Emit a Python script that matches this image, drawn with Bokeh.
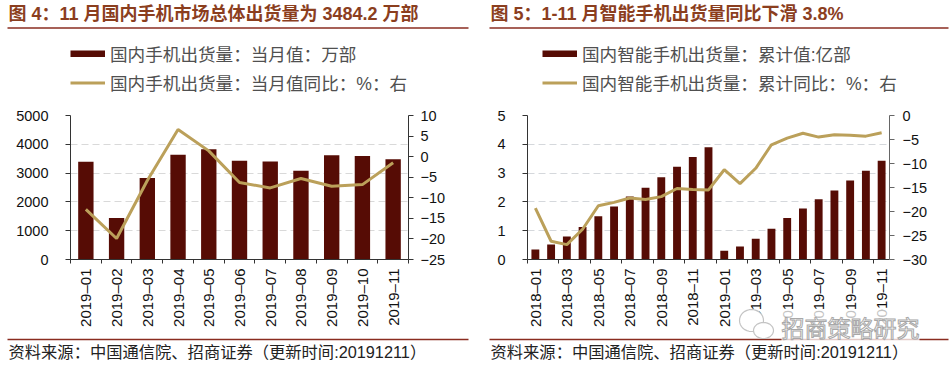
import math
from bokeh.embed import file_html
from bokeh.layouts import column, row
from bokeh.models import (FixedTicker, Grid, Label, Legend, LegendItem, LinearAxis,
                          Range1d, ColumnDataSource)
from bokeh.plotting import figure
from bokeh.resources import INLINE

# ---------- data ----------
months_a = ["2019-01", "2019-02", "2019-03", "2019-04", "2019-05", "2019-06",
            "2019-07", "2019-08", "2019-09", "2019-10", "2019-11"]
shipments_a = [3395, 1442, 2826, 3640, 3826, 3430, 3407, 3081, 3616, 3593, 3484]
yoy_a = [-12.8, -19.9, -5.8, 6.6, 1.4, -6.3, -7.6, -5.3, -7.2, -6.8, -1.5]

months_b = ["2018-01", "2018-02", "2018-03", "2018-04", "2018-05", "2018-06", "2018-07", "2018-08",
            "2018-09", "2018-10", "2018-11", "2018-12", "2019-01", "2019-02", "2019-03", "2019-04",
            "2019-05", "2019-06", "2019-07", "2019-08", "2019-09", "2019-10", "2019-11"]
shipments_b = [0.35, 0.52, 0.80, 1.13, 1.50, 1.84, 2.19, 2.49, 2.86, 3.22, 3.56, 3.90,
               0.30, 0.45, 0.72, 1.07, 1.44, 1.77, 2.09, 2.40, 2.74, 3.08, 3.43]
yoy_b = [-19.3, -26.2, -26.9, -23.7, -18.8, -18.1, -17.2, -17.5, -16.9, -15.2, -15.4, -15.5,
         -11.3, -14.2, -11.0, -6.1, -4.7, -3.7, -4.5, -4.0, -4.1, -4.3, -3.6]

title_a = "图 4：11 月国内手机市场总体出货量为 3484.2 万部"
title_b = "图 5：1-11 月智能手机出货量同比下滑 3.8%"
legend_a = ["国内手机出货量：当月值：万部", "国内手机出货量：当月值同比：%：右"]
legend_b = ["国内智能手机出货量：累计值:亿部", "国内智能手机出货量：累计同比：%：右"]
source_note = "资料来源：中国通信院、招商证券（更新时间:20191211）"
watermark = "招商策略研究"

# ---------- style ----------
BAR = "#560C05"
LINE = "#BBA05A"
RULE = "#8A2C20"
TITLE = "#8B3E1E"
FONT = "Liberation Sans, Noto Sans CJK SC"
H = 368
W = 475
MINUS = "\u2212"


def fmt(v):
    return f"{MINUS}{abs(v)}" if v < 0 else str(v)


def panel(months, bars, line, left_range, left_ticks, right_range, right_ticks, step,
          frame_l, frame_r, grid_color, right_axis_color, left_off, right_off):
    frame_t, frame_b = 115, 259
    n = len(months)
    p = figure(width=W, height=H, output_backend="svg", toolbar_location=None,
               x_range=Range1d(0, n), y_range=Range1d(*left_range),
               x_axis_location=None, y_axis_location=None,
               min_border_left=frame_l, min_border_right=W - frame_r,
               min_border_top=frame_t, min_border_bottom=H - frame_b,
               background_fill_color="white", border_fill_color="white",
               outline_line_color=None)
    p.grid.visible = False
    p.extra_y_ranges = {"r": Range1d(*right_range)}
    xs = [i + 0.5 for i in range(n)]
    src = ColumnDataSource(dict(x=xs, bar=bars, line=line))

    bottom = LinearAxis(
        ticker=FixedTicker(ticks=xs[::step], minor_ticks=list(range(0, n + 1, step))),
        major_label_overrides={xs[i]: months[i].replace("-", "\u2013") for i in range(0, n, step)},
        major_label_orientation=math.pi / 2, major_label_standoff=5,
        major_label_text_font_size="15px", major_label_text_font="Liberation Sans",
        major_label_text_color="#111111",
        major_tick_line_color=None, major_tick_in=0, major_tick_out=0,
        minor_tick_line_color="#333333", minor_tick_in=0, minor_tick_out=4,
        axis_line_color="#333333", axis_line_width=1)
    left = LinearAxis(
        ticker=FixedTicker(ticks=left_ticks, minor_ticks=[]),
        major_label_text_font_size="14.5px", major_label_text_font="Liberation Sans",
        major_label_text_color="#111111", major_label_standoff=left_off,
        major_tick_in=0, major_tick_out=5, major_tick_line_color="#333333",
        axis_line_color="#333333")
    right = LinearAxis(
        y_range_name="r",
        ticker=FixedTicker(ticks=right_ticks, minor_ticks=[]),
        major_label_overrides={v: fmt(v) for v in right_ticks},
        major_label_text_font_size="14.5px", major_label_text_font="Liberation Sans",
        major_label_text_color="#111111", major_label_standoff=right_off,
        major_tick_in=0, major_tick_out=5, major_tick_line_color=right_axis_color,
        axis_line_color=right_axis_color)
    p.add_layout(bottom, "below")
    p.add_layout(left, "left")
    p.add_layout(right, "right")

    p.add_layout(Grid(dimension=1, ticker=FixedTicker(ticks=left_ticks[1:]),
                      grid_line_color=grid_color, grid_line_dash="7 4", grid_line_width=1))

    p.vbar(x="x", top="bar", bottom=0, width=0.5, source=src, fill_color=BAR, line_color=None)
    p.line(x="x", y="line", y_range_name="r", source=src, line_color=LINE, line_width=3)
    return p


p1 = panel(months_a, shipments_a, yoy_a, (0, 5000), [0, 1000, 2000, 3000, 4000, 5000],
           (-25, 10), [-25, -20, -15, -10, -5, 0, 5, 10], 1,
           70, 408, "#D9D9D9", "#333333", 17, 7)
p2 = panel(months_b, shipments_b, yoy_b, (0, 5), [0, 1, 2, 3, 4, 5],
           (-30, 0), [-30, -25, -20, -15, -10, -5, 0], 2,
           52, 414, "#D5D8DC", "#666666", 17, 8)

# transparent sheet over both charts: its range is the page in pixels, y downward
sheet = figure(width=2 * W, height=H, output_backend="svg", toolbar_location=None,
               x_range=Range1d(0, 2 * W), y_range=Range1d(H, 0),
               x_axis_location=None, y_axis_location=None,
               min_border=0, min_border_left=0, min_border_right=0, min_border_top=0, min_border_bottom=0,
               background_fill_color=None, border_fill_color=None, outline_line_color=None,
               margin=(-H, 0, 0, 0))
sheet.grid.visible = False


def furniture(rule_l, rule_r, text_x, title, legend_texts, legend_x):
    for y in (27.5, 339):
        sheet.segment(x0=[rule_l], x1=[rule_r], y0=[y], y1=[y], line_color=RULE, line_width=1.6)
    sheet.text(x=[text_x], y=[13], text=[title], text_font={"value": FONT}, text_font_size="18px",
               text_font_style="bold", text_color=TITLE, text_baseline="middle")
    sheet.text(x=[text_x], y=[351], text=[source_note], text_font={"value": FONT}, text_font_size="16.3px",
               text_color="#222222", text_baseline="middle")
    # legend keys only: off-page proxies that carry the styles of the chart's marks
    proxy = ColumnDataSource(dict(x=[-50, -40], y=[-50, -40]))
    rb = sheet.line(x="x", y="y", source=proxy, line_color=BAR, line_width=7, line_cap="butt")
    rl = sheet.line(x="x", y="y", source=proxy, line_color=LINE, line_width=3)
    sheet.add_layout(Legend(items=[LegendItem(label=legend_texts[0], renderers=[rb]),
                                   LegendItem(label=legend_texts[1], renderers=[rl])],
                            location=(legend_x, H - 95),
                            glyph_width=35, glyph_height=7, label_standoff=5,
                            label_text_font=FONT, label_text_font_size="17.6px", label_text_color="#505050",
                            spacing=4, padding=0, margin=0,
                            background_fill_alpha=0, border_line_color=None), "center")


furniture(7, 468, 8, title_a, legend_a, 70)
furniture(489, 948, 490, title_b, legend_b, 542)

# watermark over the tick labels of the right chart
t = [i * math.pi / 16 for i in range(32)]
for cx, cy, rx, ry in ((751, 320, 12, 11), (763, 330, 10, 8)):
    sheet.patch([cx + rx * math.cos(a) for a in t], [cy + ry * math.sin(a) for a in t],
                fill_color="white", line_color="#C4C4C4", line_width=1.2)
sheet.add_layout(Label(x=781, y=326, text=watermark, text_font="Noto Sans CJK SC", text_font_size="23px",
                       text_color="white", text_outline_color="#A8A8A8", text_baseline="middle",
                       background_fill_color="white", background_fill_alpha=0.75))

page = column(row(p1, p2, spacing=0), sheet, spacing=0)
open("out.html", "w").write(file_html(page, INLINE))
